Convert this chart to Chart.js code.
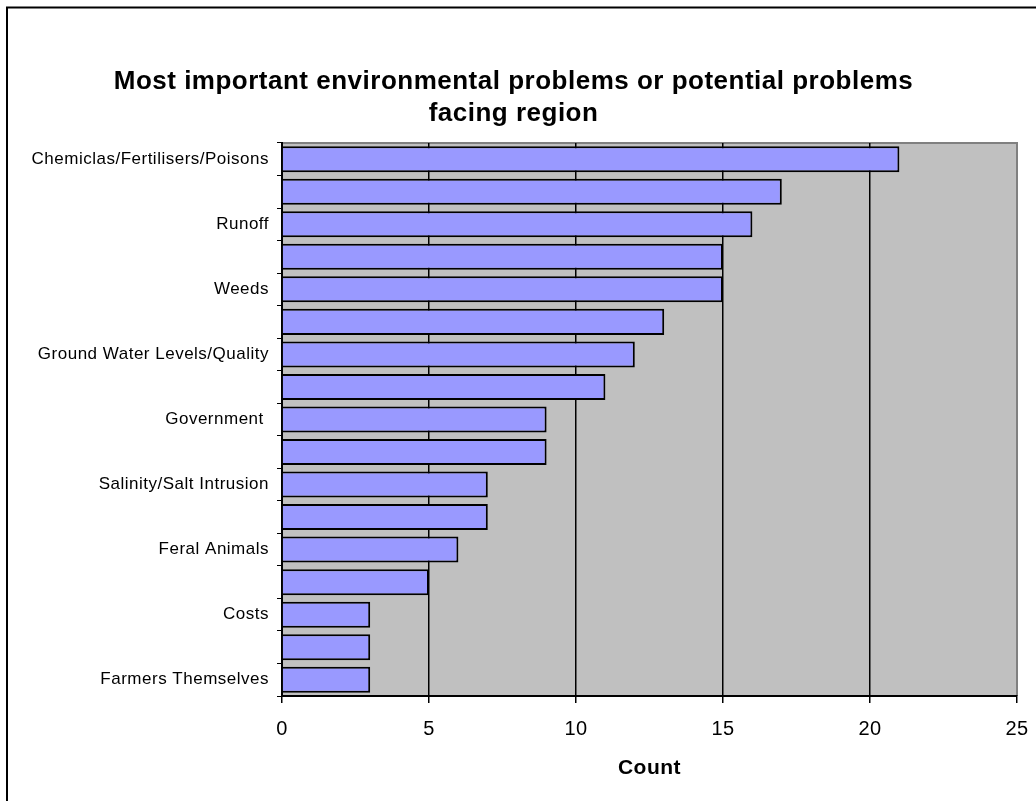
<!DOCTYPE html>
<html>
<head>
<meta charset="utf-8">
<title>Most important environmental problems</title>
<script src="https://cdn.jsdelivr.net/npm/chart.js@4.4.1/dist/chart.umd.min.js"></script>
<style>
  html, body { margin: 0; padding: 0; background: #ffffff; }
  #wrap { position: relative; width: 1036px; height: 801px; }
</style>
</head>
<body>
<div id="wrap"><canvas id="chart" width="1036" height="801"></canvas></div>
<script>
// Categories, top to bottom (only every other one carries a visible label)
const categories = [
  'Chemiclas/Fertilisers/Poisons', '',
  'Runoff', '',
  'Weeds', '',
  'Ground Water Levels/Quality', '',
  'Government ', '',
  'Salinity/Salt Intrusion', '',
  'Feral Animals', '',
  'Costs', '',
  'Farmers Themselves'
];
const counts = [21, 17, 16, 15, 15, 13, 12, 11, 9, 9, 7, 7, 6, 5, 3, 3, 3];
const xTicks = [0, 5, 10, 15, 20, 25];
const titleLines = [
  'Most important environmental problems or potential problems',
  'facing region'
];
const axisTitle = 'Count';

const FONT = "'Liberation Sans', Arial, sans-serif";

// Slightly open letter spacing for every text drawn on the canvas
const spacing = {
  id: 'spacing',
  beforeUpdate(chart) { chart.ctx.letterSpacing = '0.5px'; },
  beforeDraw(chart) { chart.ctx.letterSpacing = '0.5px'; }
};

// Grey plot background, grey top/right edge and the outer frame
const backdrop = {
  id: 'backdrop',
  beforeDraw(chart) {
    const { ctx, chartArea: a } = chart;
    ctx.save();
    ctx.fillStyle = '#ffffff';
    ctx.fillRect(0, 0, chart.width, chart.height);
    ctx.fillStyle = '#c0c0c0';
    ctx.fillRect(a.left, a.top, a.right - a.left, a.bottom - a.top);
    ctx.strokeStyle = '#808080';
    ctx.lineWidth = 2;
    ctx.beginPath();
    ctx.moveTo(a.left, a.top);
    ctx.lineTo(a.right, a.top);
    ctx.lineTo(a.right, a.bottom);
    ctx.stroke();
    ctx.strokeStyle = '#000000';
    ctx.lineWidth = 2;
    ctx.strokeRect(7, 7.5, chart.width + 20, chart.height + 20);
    ctx.restore();
  }
};

new Chart(document.getElementById('chart'), {
  type: 'bar',
  data: {
    labels: categories,
    datasets: [{
      data: counts,
      backgroundColor: '#9999ff',
      borderColor: '#000000',
      borderWidth: 2,
      categoryPercentage: 1,
      barPercentage: 0.8
    }]
  },
  options: {
    indexAxis: 'y',
    responsive: false,
    animation: false,
    devicePixelRatio: 1,
    layout: { padding: { left: 10, right: 19, top: 0, bottom: 0 } },
    plugins: {
      legend: { display: false },
      tooltip: { enabled: false },
      title: {
        display: true,
        text: titleLines,
        color: '#000000',
        font: { family: FONT, size: 26, weight: 'bold', lineHeight: 1.23 },
        padding: { top: 66, bottom: 13 }
      }
    },
    scales: {
      x: {
        type: 'linear',
        min: 0,
        max: 25,
        afterBuildTicks(scale) {
          scale.ticks = xTicks.map(v => ({ value: v }));
        },
        afterFit(scale) {
          scale.height = 105;
          scale.paddingLeft = 0;
          scale.paddingRight = 0;
        },
        grid: {
          color: ctx => (ctx.tick && ctx.tick.value === 25) ? 'rgba(0,0,0,0)' : '#000000',
          tickColor: '#000000',
          lineWidth: 1.5,
          tickLength: 7,
          drawOnChartArea: true
        },
        border: { display: true, color: '#000000', width: 2 },
        ticks: {
          color: '#000000',
          padding: 14,
          font: { family: FONT, size: 20 }
        },
        title: {
          display: true,
          text: axisTitle,
          color: '#000000',
          font: { family: FONT, size: 21, weight: 'bold', lineHeight: 1.2 },
          padding: { top: 0, bottom: 20 }
        }
      },
      y: {
        afterFit(scale) { scale.width = 272; },
        grid: {
          offset: true,
          drawOnChartArea: false,
          drawTicks: true,
          tickLength: 5,
          tickColor: '#000000'
        },
        border: { display: true, color: '#000000', width: 2 },
        ticks: {
          color: '#000000',
          padding: 8,
          autoSkip: false,
          font: { family: FONT, size: 17 }
        }
      }
    }
  },
  plugins: [spacing, backdrop]
});
</script>
</body>
</html>
